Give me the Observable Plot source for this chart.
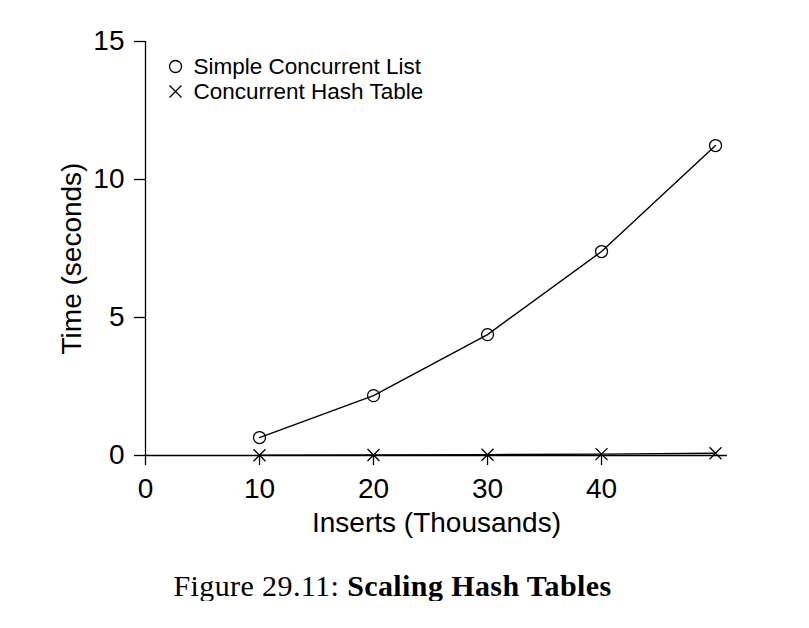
<!DOCTYPE html>
<html>
<head>
<meta charset="utf-8">
<script src="https://cdn.jsdelivr.net/npm/d3@7"></script>
<script src="https://cdn.jsdelivr.net/npm/@observablehq/plot@0.6"></script>
<style>
  html, body { margin: 0; padding: 0; background: #fff; }
  #chart svg { display: block; }
  #caption {
    width: 785px; text-align: center;
    font-family: "Liberation Serif", "DejaVu Serif", serif;
    font-size: 30px; letter-spacing: 0.4px; color: #000; line-height: 1; margin-top: 16px;
  }
</style>
</head>
<body>
<div id="chart"></div>
<div id="caption">Figure 29.11: <b>Scaling Hash Tables</b></div>
<script>
const inserts = [10, 20, 30, 40, 50];
const simpleList = [0.65, 2.17, 4.38, 7.39, 11.23];
const hashTable = [0.01, 0.02, 0.03, 0.05, 0.08];
const seriesNames = ["Simple Concurrent List", "Concurrent Hash Table"];
const xTicks = [0, 10, 20, 30, 40];
const yTicks = [0, 5, 10, 15];
const xLabel = "Inserts (Thousands)";
const yLabel = "Time (seconds)";

const listData = inserts.map((x, i) => ({x, y: simpleList[i]}));
const hashData = inserts.map((x, i) => ({x, y: hashTable[i]}));

const timesSymbol = {
  draw(context, size) {
    const r = Math.sqrt(size / Math.PI);
    context.moveTo(-r, -r); context.lineTo(r, r);
    context.moveTo(r, -r); context.lineTo(-r, r);
  }
};

const font = "Liberation Sans, Arial, Helvetica, sans-serif";

const plot = Plot.plot({
  width: 809,
  height: 555,
  marginLeft: 145,
  marginRight: 82,
  marginTop: 41,
  marginBottom: 100,
  style: {fontFamily: font, fontSize: "28px", color: "#000", background: "#fff"},
  x: {domain: [0, 51.05]},
  y: {domain: [0, 15]},
  marks: [
    Plot.axisX({ticks: xTicks, tickSize: 10, tickPadding: 13, fontSize: 28, label: null, tickFormat: d => String(d), strokeWidth: 1.3}),
    Plot.axisY({ticks: yTicks, tickSize: 11, tickPadding: 10, fontSize: 28, label: null, tickFormat: d => String(d), strokeWidth: 1.3}),
    Plot.text([xLabel], {frameAnchor: "bottom", dy: 68, fontSize: 28, textAnchor: "middle", lineAnchor: "middle", fill: "#000"}),
    Plot.text([yLabel], {frameAnchor: "left", dx: -73, dy: 10, rotate: -90, fontSize: 28, textAnchor: "middle", lineAnchor: "middle", fill: "#000"}),
    Plot.ruleX([0], {y1: 0, y2: 15, stroke: "#000", strokeWidth: 1.3}),
    Plot.ruleY([0], {x1: 0, x2: 51.05, stroke: "#000", strokeWidth: 1.3}),
    Plot.line(listData, {x: "x", y: "y", stroke: "#000", strokeWidth: 1.4}),
    Plot.line(hashData, {x: "x", y: "y", stroke: "#000", strokeWidth: 1.4}),
    Plot.dot(listData, {x: "x", y: "y", r: 6, symbol: "circle", stroke: "#000", fill: "none", strokeWidth: 1.3}),
    Plot.dot(hashData, {x: "x", y: "y", r: 6, symbol: timesSymbol, stroke: "#000", fill: "none", strokeWidth: 1.3}),
    // legend
    Plot.dot([seriesNames[0]], {frameAnchor: "top-left", dx: 30, dy: 25, r: 6, symbol: "circle", stroke: "#000", fill: "none", strokeWidth: 1.3}),
    Plot.dot([seriesNames[1]], {frameAnchor: "top-left", dx: 30, dy: 50, r: 6, symbol: timesSymbol, stroke: "#000", fill: "none", strokeWidth: 1.3}),
    Plot.text([seriesNames[0]], {text: d => d, frameAnchor: "top-left", dx: 48, dy: 25, textAnchor: "start", lineAnchor: "middle", fontSize: 22.5, fill: "#000"}),
    Plot.text([seriesNames[1]], {text: d => d, frameAnchor: "top-left", dx: 48, dy: 50, textAnchor: "start", lineAnchor: "middle", fontSize: 22.5, fill: "#000"})
  ]
});
document.getElementById("chart").appendChild(plot);
</script>
</body>
</html>
